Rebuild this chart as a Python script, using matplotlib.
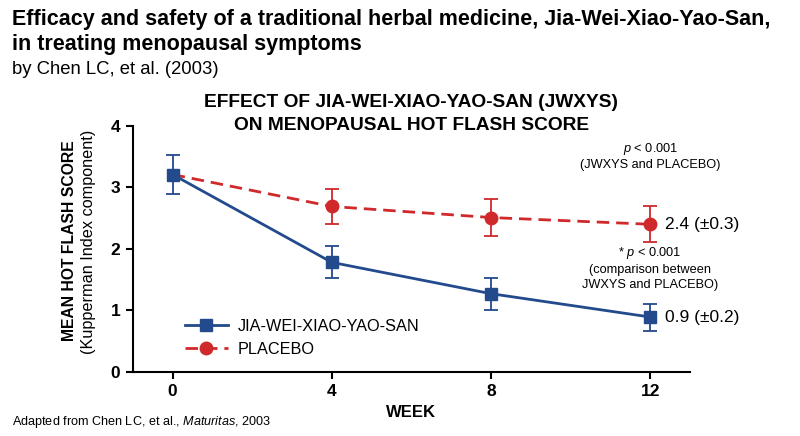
import matplotlib
matplotlib.use("Agg")
import matplotlib.pyplot as plt
from matplotlib.lines import Line2D

plt.rcParams['font.family'] = ['Liberation Sans', 'DejaVu Sans']
plt.rcParams['mathtext.fontset'] = 'custom'
plt.rcParams['mathtext.rm'] = 'Liberation Sans'
plt.rcParams['mathtext.it'] = 'Liberation Sans:italic'
plt.rcParams['mathtext.bf'] = 'Liberation Sans:bold'

weeks = [0, 4, 8, 12]
jwxys_mean = [3.21, 1.78, 1.27, 0.89]
jwxys_err = [0.31, 0.26, 0.26, 0.22]
placebo_weeks = [0, 4, 8, 12]
placebo_mean = [3.21, 2.69, 2.51, 2.40]
placebo_err = [0.0, 0.29, 0.30, 0.29]
xticks = [0, 4, 8, 12]
yticks = [0, 1, 2, 3, 4]

BLUE = '#234a8c'
RED = '#d0292b'

fig = plt.figure(figsize=(8, 4.36), dpi=100)
ax = fig.add_axes([0.166, 0.1475, 0.6965, 0.5635])

# placebo (drawn first so JWXYS square sits on top at week 0)
ax.errorbar(placebo_weeks[1:], placebo_mean[1:], yerr=placebo_err[1:], fmt='none',
            ecolor=RED, elinewidth=1.3, capsize=5, capthick=1.3, zorder=3)
ax.plot(placebo_weeks, placebo_mean, color=RED, lw=2, dashes=(4.5, 2.5), zorder=3)
ax.plot(placebo_weeks[1:], placebo_mean[1:], 'o', color=RED, ms=9, zorder=4)

ax.errorbar(weeks, jwxys_mean, yerr=jwxys_err, fmt='none',
            ecolor=BLUE, elinewidth=1.3, capsize=5, capthick=1.3, zorder=5)
ax.plot(weeks, jwxys_mean, color=BLUE, lw=2, zorder=5)
ax.plot(weeks, jwxys_mean, 's', color=BLUE, ms=9, zorder=6)

ax.set_xlim(-1, 13)
ax.set_ylim(0, 4)
ax.set_xticks(xticks)
ax.set_yticks(yticks)
ax.set_xticklabels([str(t) for t in xticks], fontsize=12.5, fontweight='bold')
ax.set_yticklabels([str(t) for t in yticks], fontsize=12.5, fontweight='bold')
for s in ['top', 'right']:
    ax.spines[s].set_visible(False)
for s in ['left', 'bottom']:
    ax.spines[s].set_linewidth(1.5)
ax.tick_params(width=1.5, length=5, pad=4)

# legend (manual handles)
h1 = Line2D([], [], color=BLUE, lw=2, marker='s', ms=9)
h2 = Line2D([], [], color=RED, lw=2, dashes=(4.5, 2.5), marker='o', ms=9)
leg = ax.legend([h1, h2], ['JIA-WEI-XIAO-YAO-SAN', 'PLACEBO'], loc='lower left',
                bbox_to_anchor=(0.068, 0.0), frameon=False, fontsize=11.7,
                handlelength=2.6, handletextpad=0.6, labelspacing=0.5)

# end labels
ax.annotate('2.4 (±0.3)', xy=(12, placebo_mean[-1]), xytext=(11, 0),
            textcoords='offset points', va='center', ha='left', fontsize=12.5)
ax.annotate('0.9 (±0.2)', xy=(12, jwxys_mean[-1]), xytext=(11, 0),
            textcoords='offset points', va='center', ha='left', fontsize=12.5)

ax.text(12, 3.62, r'$\it{p}$ < 0.001', ha='center', va='center', fontsize=9.2)
ax.text(12, 3.37, '(JWXYS and PLACEBO)', ha='center', va='center', fontsize=9.2)
ax.text(12, 1.94, r'* $\it{p}$ < 0.001', ha='center', va='center', fontsize=9.2)
ax.text(12, 1.66, '(comparison between', ha='center', va='center', fontsize=9.2)
ax.text(12, 1.41, 'JWXYS and PLACEBO)', ha='center', va='center', fontsize=9.2)

# axis labels
fig.text(69/800, 1-241/436, 'MEAN HOT FLASH SCORE', rotation=90, ha='center', va='center',
         fontsize=11.3, fontweight='bold')
fig.text(88/800, 1-242/436, '(Kupperman Index component)', rotation=90, ha='center', va='center',
         fontsize=11.7)
fig.text(411/800, 1-412/436, 'WEEK', ha='center', va='center', fontsize=12, fontweight='bold')

# chart title
fig.text(411/800, 1-102/436, 'EFFECT OF JIA-WEI-XIAO-YAO-SAN (JWXYS)', ha='center', va='center',
         fontsize=13.8, fontweight='bold')
fig.text(412/800, 1-125/436, 'ON MENOPAUSAL HOT FLASH SCORE', ha='center', va='center',
         fontsize=13.8, fontweight='bold')

# header
fig.text(12/800, 1-25/436, 'Efficacy and safety of a traditional herbal medicine, Jia-Wei-Xiao-Yao-San,',
         ha='left', va='baseline', fontsize=15.5, fontweight='bold')
fig.text(12/800, 1-50/436, 'in treating menopausal symptoms', ha='left', va='baseline',
         fontsize=15.5, fontweight='bold')
fig.text(12/800, 1-74/436, 'by Chen LC, et al. (2003)', ha='left', va='baseline', fontsize=13.3)

# footer
fig.text(12/800, 1-422/436, r'Adapted from Chen LC, et al., $\it{Maturitas}$, 2003', ha='left',
         va='center', fontsize=9.1)

fig.savefig('out.png', dpi=100)
